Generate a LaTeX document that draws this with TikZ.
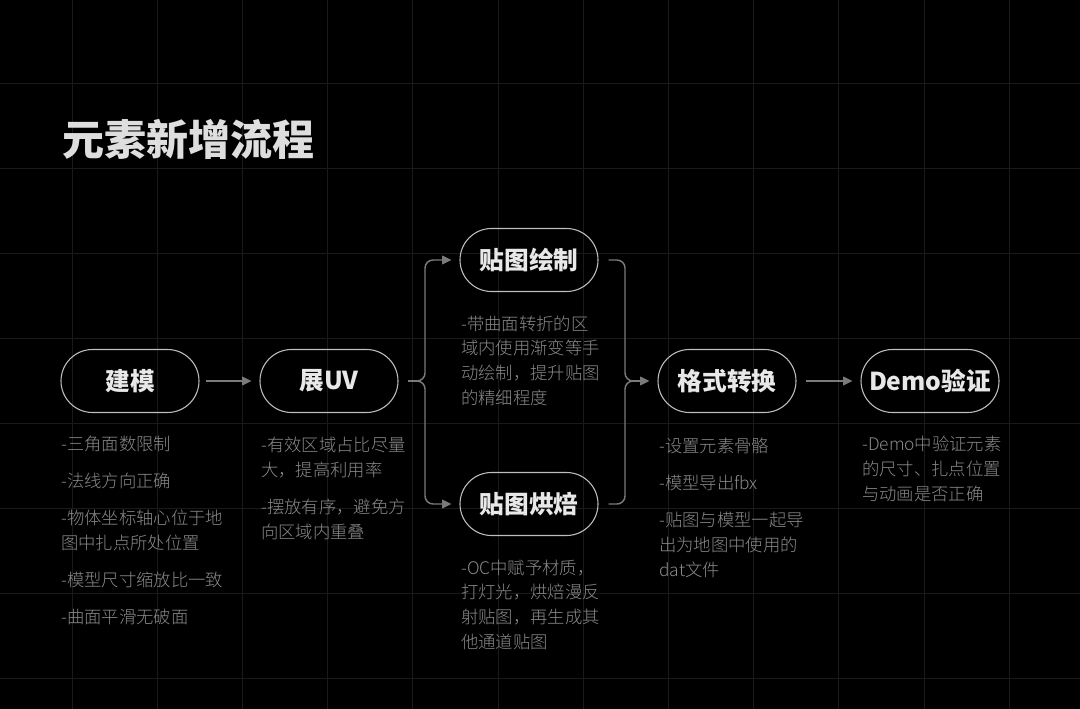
\documentclass[tikz,border=0pt]{standalone}
\usepackage{fontspec}
\setmainfont{Noto Sans CJK SC}
\newfontfamily\notefont{Noto Sans CJK SC Light}
\usepackage{tikz}
\usetikzlibrary{shapes.misc,arrows.meta}

\definecolor{gridgray}{RGB}{26,26,26}
\definecolor{pillline}{RGB}{190,190,190}
\definecolor{labelgray}{RGB}{232,232,232}
\definecolor{titlegray}{RGB}{222,222,222}
\definecolor{notegray}{RGB}{138,138,138}
\definecolor{linkgray}{RGB}{122,122,122}

\begin{document}
\begin{tikzpicture}[x=0.75pt,y=0.75pt,yscale=-1,xscale=1,
    pill/.style={rounded rectangle, draw=pillline, line width=0.8pt, minimum width=103.5pt, minimum height=47.25pt, inner sep=0pt, text=labelgray, font=\bfseries\fontsize{18.5pt}{22pt}\selectfont},
    note/.style={anchor=base west, inner sep=0pt, align=left, text=notegray, font=\notefont\fontsize{13pt}{18.5pt}\selectfont},
    link/.style={draw=linkgray, line width=1.1pt},
    tip/.style={-{Triangle[length=7pt,width=6.5pt]}}]
        %set diagram size 1080 x 709, black background
        \path[use as bounding box, fill=black] (0,0) rectangle (1080,709);
        
        %Grid Lines
        \foreach \k in {-1,...,12} \draw[gridgray, line width=0.7pt] ({72+85.2*\k},0) -- ({72+85.2*\k},709);
        \foreach \k in {0,...,7} \draw[gridgray, line width=0.7pt] (0,{83+85*\k}) -- (1080,{83+85*\k});
        
        % Title Node
        \node (title) at (62,156) [anchor=base west, inner sep=0pt, text=titlegray, font=\bfseries\fontsize{31.5pt}{36pt}\selectfont] {元素新增流程};
        
        % Step Nodes
        \node (model) at (130,381) [pill] {建模};
        \node (uv) at (329,381) [pill] {展UV};
        \node (paint) at (529,260) [pill] {贴图绘制};
        \node (bake) at (529,504) [pill] {贴图烘焙};
        \node (fmt) at (727,381) [pill] {格式转换};
        \node (demo) at (930,381) [pill] {Demo验证};
        
        %Straight Lines
        \draw[link,tip] ([xshift=4.5pt]model.east) -- ([xshift=-6pt]uv.west);
        %Brace Lines (split)
        \coordinate (braceL) at (417,381);
        \draw[link] ([xshift=6.75pt]uv.east) -- (braceL);
        \draw[link,tip,rounded corners=6pt] (braceL) -- ++(8,0) |- ([xshift=-6pt]paint.west);
        \draw[link,tip,rounded corners=6pt] (braceL) -- ++(8,0) |- ([xshift=-6pt]bake.west);
        %Brace Lines (join)
        \coordinate (braceR) at (633,381);
        \draw[link,rounded corners=6pt] ([xshift=7.5pt]paint.east) -| ([xshift=-6pt]braceR) -- (braceR);
        \draw[link,rounded corners=6pt] ([xshift=7.5pt]bake.east) -| ([xshift=-6pt]braceR) -- (braceR);
        \draw[link,tip] (braceR) -- ([xshift=-6pt]fmt.west);
        %Straight Lines
        \draw[link,tip] ([xshift=6.75pt]fmt.east) -- ([xshift=-6pt]demo.west);
        
        % Text Node (placed by the baseline of the last line)
        \node (modelnote) at (61,623.5) [note] {-三角面数限制\\[9.4pt]-法线方向正确\\[9.4pt]-物体坐标轴心位于地\\图中扎点所处位置\\[9.4pt]-模型尺寸缩放比一致\\[9.4pt]-曲面平滑无破面};
        % Text Node
        \node (uvnote) at (261,538.5) [note] {-有效区域占比尽量\\大，提高利用率\\[9.4pt]-摆放有序，避免方\\向区域内重叠};
        % Text Node
        \node (paintnote) at (461,404) [note] {-带曲面转折的区\\域内使用渐变等手\\动绘制，提升贴图\\的精细程度};
        % Text Node
        \node (bakenote) at (461,648) [note] {-OC中赋予材质，\\打灯光，烘焙漫反\\射贴图，再生成其\\他通道贴图};
        % Text Node
        \node (fmtnote) at (659,576) [note] {-设置元素骨骼\\[9.4pt]-模型导出fbx\\[9.4pt]-贴图与模型一起导\\出为地图中使用的\\dat文件};
        % Text Node
        \node (demonote) at (862,500) [note] {-Demo中验证元素\\的尺寸、扎点位置\\与动画是否正确};
        
    \end{tikzpicture}
\end{document}
